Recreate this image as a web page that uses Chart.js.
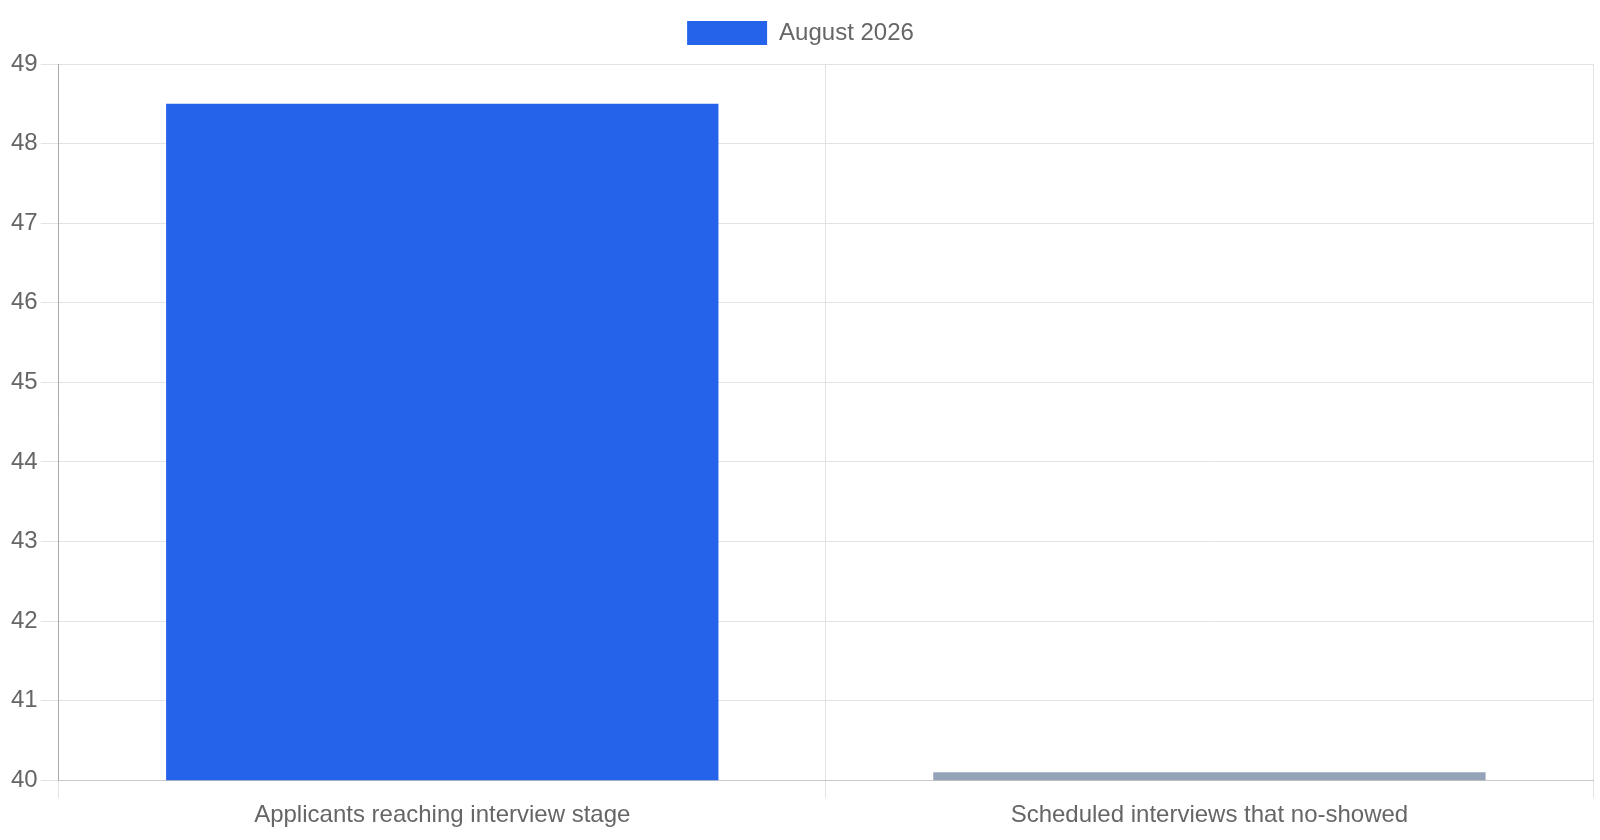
<!DOCTYPE html>
<html>
<head>
<meta charset="utf-8">
<script src="https://cdn.jsdelivr.net/npm/chart.js@4"></script>
<style>
html,body{margin:0;padding:0;background:#fff;}
#wrap{width:1600px;height:840px;position:relative;}
</style>
</head>
<body>
<div id="wrap"><canvas id="c"></canvas></div>
<script>
const categories = ["Applicants reaching interview stage", "Scheduled interviews that no-showed"];
const seriesLabel = "August 2026";
const values = [48.5, 40.1];
const barColors = ["#2563eb", "#94a3b8"];
const yMin = 40;
const yMax = 49;

Chart.defaults.font.family = "'Liberation Sans', Arial, sans-serif";
Chart.defaults.font.size = 24;
Chart.defaults.color = "#666";

const legendSpacing = {
  id: "legendSpacing",
  beforeInit(chart) {
    const origFit = chart.legend.fit;
    chart.legend.fit = function () {
      origFit.bind(chart.legend)();
      this.height += 9;
    };
  }
};

new Chart(document.getElementById("c"), {
  type: "bar",
  data: {
    labels: categories,
    datasets: [{
      label: seriesLabel,
      data: values,
      backgroundColor: barColors,
      borderColor: barColors,
      borderWidth: 0
    }]
  },
  options: {
    responsive: true,
    maintainAspectRatio: false,
    animation: false,
    layout: { padding: { left: 8, right: 7, top: 2, bottom: 7 } },
    plugins: {
      legend: {
        labels: { boxWidth: 80, boxHeight: 24, padding: 19 }
      },
      tooltip: { enabled: false }
    },
    scales: {
      x: {
        grid: { color: "#e3e3e3", tickLength: 18 },
        border: { color: "#c8c8c8" }
      },
      y: {
        min: yMin,
        max: yMax,
        ticks: { stepSize: 1 },
        grid: { color: "#e3e3e3", tickLength: 18 },
        border: { color: "#aaa" }
      }
    }
  },
  plugins: [legendSpacing]
});
</script>
</body>
</html>
